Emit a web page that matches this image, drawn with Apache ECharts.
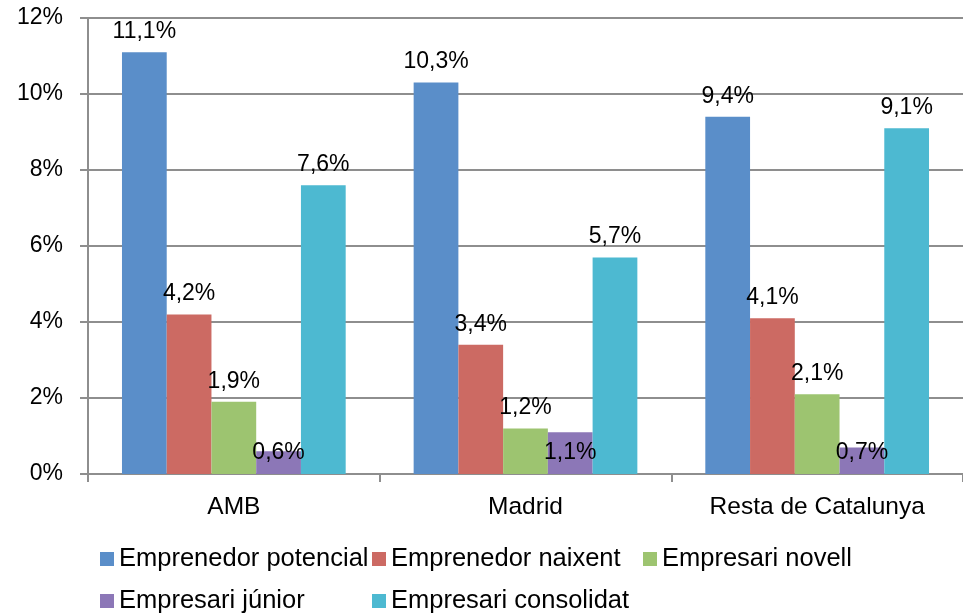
<!DOCTYPE html>
<html>
<head>
<meta charset="utf-8">
<script src="https://cdn.jsdelivr.net/npm/echarts@6/dist/echarts.min.js"></script>
<style>
  html, body { margin: 0; padding: 0; background: #ffffff; }
  #chart { width: 963px; height: 616px; }
</style>
</head>
<body>
<div id="chart"></div>
<script>
// Regions compared
const categories = ['AMB', 'Madrid', 'Resta de Catalunya'];

// Share of population in each entrepreneurial stage (%)
const emprenedorPotencial = [11.1, 10.3, 9.4];
const emprenedorNaixent   = [4.2, 3.4, 4.1];
const empresariNovell     = [1.9, 1.2, 2.1];
const empresariJunior     = [0.6, 1.1, 0.7];
const empresariConsolidat = [7.6, 5.7, 9.1];

const seriesNames = [
  'Emprenedor potencial',
  'Emprenedor naixent',
  'Empresari novell',
  'Empresari júnior',
  'Empresari consolidat'
];
const seriesValues = [
  emprenedorPotencial,
  emprenedorNaixent,
  empresariNovell,
  empresariJunior,
  empresariConsolidat
];

const yTicks = { min: 0, max: 12, step: 2 };

const colors = ['#5A8EC9', '#CC6A63', '#9DC470', '#8C77B7', '#4DB9D1'];
const FONT = '"Liberation Sans", Arial, sans-serif';
const GRAY = '#8e8e8e';

const fmt = v => v.toFixed(1).replace('.', ',') + '%';

const series = seriesNames.map((name, i) => ({
  name: name,
  type: 'bar',
  data: seriesValues[i],
  barGap: '0%',
  barCategoryGap: '23.3%',
  itemStyle: { color: colors[i] },
  label: {
    show: true,
    position: i === 3 ? 'insideBottom' : 'top',
    distance: i === 3 ? 10 : 9,
    formatter: p => fmt(p.value),
    color: '#000',
    fontFamily: FONT,
    fontSize: 23,
    lineHeight: 23
  }
}));

// legend laid out in two rows of fixed columns
const legendPos = [
  { left: 100, top: 546 },
  { left: 372, top: 546 },
  { left: 643, top: 546 },
  { left: 100, top: 588 },
  { left: 372, top: 588 }
];
const legends = seriesNames.map((name, i) => ({
  data: [name],
  left: legendPos[i].left,
  top: legendPos[i].top,
  padding: 0,
  icon: 'rect',
  itemWidth: 14,
  itemHeight: 14,
  selectedMode: false,
  textStyle: { fontFamily: FONT, fontSize: 25.5, lineHeight: 24, color: '#000' }
}));

const chart = echarts.init(document.getElementById('chart'), null, { renderer: 'canvas' });
chart.setOption({
  animation: false,
  backgroundColor: '#ffffff',
  color: colors,
  legend: legends,
  grid: { left: 88, top: 18, width: 880, height: 456, containLabel: false },
  xAxis: {
    type: 'category',
    data: categories,
    boundaryGap: true,
    axisLine: { show: true, lineStyle: { color: GRAY, width: 2 } },
    axisTick: { show: true, interval: 0, length: 8, lineStyle: { color: GRAY, width: 2 } },
    axisLabel: { margin: 21, color: '#000', fontFamily: FONT, fontSize: 24.5, interval: 0 }
  },
  yAxis: {
    type: 'value',
    min: yTicks.min,
    max: yTicks.max,
    interval: yTicks.step,
    axisLine: { show: true, lineStyle: { color: GRAY, width: 2 } },
    axisTick: { show: true, length: 8, lineStyle: { color: GRAY, width: 2 } },
    axisLabel: { margin: 25, color: '#000', fontFamily: FONT, fontSize: 23, formatter: '{value}%' },
    splitLine: { show: true, lineStyle: { color: GRAY, width: 2 } }
  },
  series: series
});
</script>
</body>
</html>
